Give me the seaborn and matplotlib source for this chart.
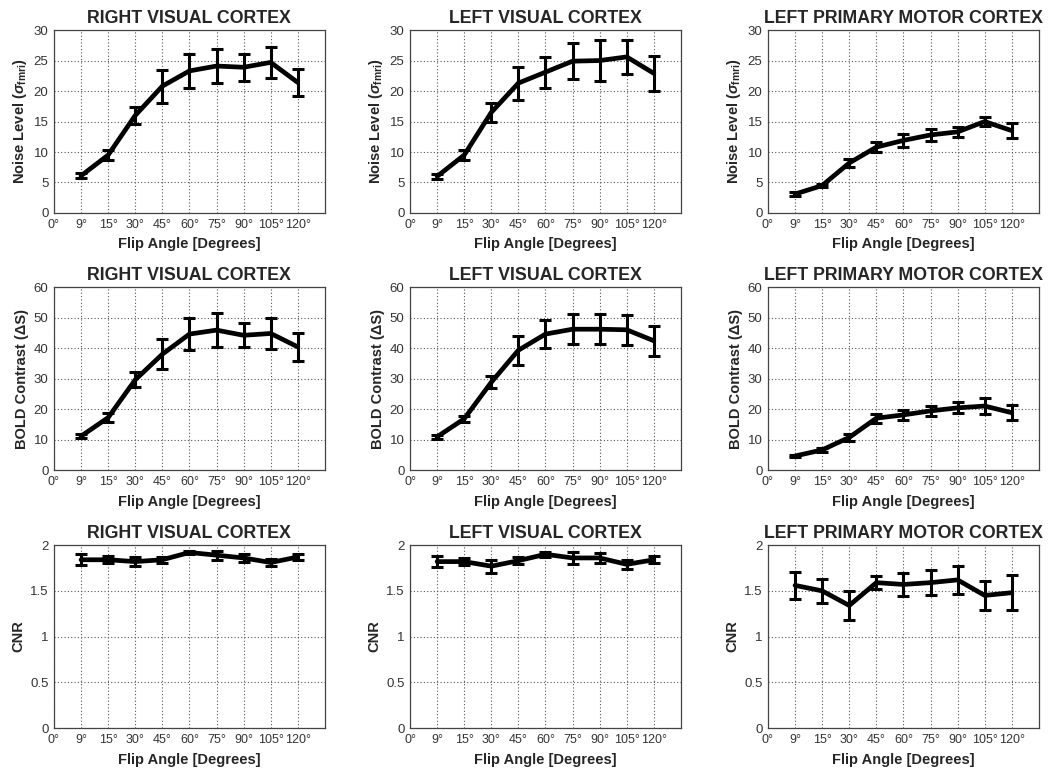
import numpy as np
import pandas as pd
import matplotlib
matplotlib.use("Agg")
import matplotlib.pyplot as plt
import seaborn as sns

tick_labels = ["0°", "9°", "15°", "30°", "45°", "60°", "75°", "90°", "105°", "120°"]
flip_angles = ["9°", "15°", "30°", "45°", "60°", "75°", "90°", "105°", "120°"]
regions = ["RIGHT VISUAL CORTEX", "LEFT VISUAL CORTEX", "LEFT PRIMARY MOTOR CORTEX"]

noise_rvc = [6.1, 9.5, 16.0, 20.8, 23.3, 24.1, 23.9, 24.7, 21.4]
noise_rvc_err = [0.4, 0.8, 1.4, 2.7, 2.8, 2.85, 2.25, 2.55, 2.15]
noise_lvc = [6.0, 9.5, 16.5, 21.3, 23.1, 24.9, 25.0, 25.6, 22.9]
noise_lvc_err = [0.4, 0.8, 1.6, 2.7, 2.55, 2.9, 3.4, 2.85, 2.85]
noise_lpmc = [3.1, 4.5, 8.2, 10.8, 11.9, 12.8, 13.3, 15.0, 13.5]
noise_lpmc_err = [0.3, 0.3, 0.6, 0.8, 1.0, 1.0, 0.8, 0.7, 1.2]

bold_rvc = [11.1, 17.2, 29.6, 38.0, 44.6, 45.9, 44.2, 44.8, 40.4]
bold_rvc_err = [0.6, 1.5, 2.4, 5.0, 5.2, 5.5, 4.0, 5.0, 4.5]
bold_lvc = [10.9, 16.8, 28.8, 39.3, 44.6, 46.2, 46.2, 46.0, 42.4]
bold_lvc_err = [0.6, 1.0, 2.0, 4.8, 4.5, 5.0, 5.0, 5.0, 5.0]
bold_lpmc = [4.6, 6.6, 10.7, 17.0, 18.1, 19.4, 20.4, 21.0, 18.8]
bold_lpmc_err = [0.4, 0.6, 1.2, 1.5, 1.7, 1.7, 1.8, 2.5, 2.5]

cnr_rvc = [1.84, 1.84, 1.82, 1.84, 1.92, 1.89, 1.86, 1.81, 1.87]
cnr_rvc_err = [0.06, 0.04, 0.05, 0.03, 0.02, 0.05, 0.04, 0.04, 0.03]
cnr_lvc = [1.82, 1.82, 1.77, 1.83, 1.90, 1.86, 1.86, 1.79, 1.84]
cnr_lvc_err = [0.06, 0.04, 0.07, 0.04, 0.03, 0.07, 0.05, 0.05, 0.04]
cnr_lpmc = [1.56, 1.50, 1.34, 1.59, 1.57, 1.59, 1.62, 1.45, 1.48]
cnr_lpmc_err = [0.15, 0.13, 0.16, 0.07, 0.13, 0.14, 0.15, 0.16, 0.19]

ylabels = [r"Noise Level ($\sigma_{\mathbf{fmri}}$)", "BOLD Contrast (ΔS)", "CNR"]
ylims = [(0, 30), (0, 60), (0, 2)]
yticks = [np.arange(0, 31, 5), np.arange(0, 61, 10), [0, 0.5, 1, 1.5, 2]]
yticklabels = [[str(v) for v in range(0, 31, 5)], [str(v) for v in range(0, 61, 10)],
               ["0", "0.5", "1", "1.5", "2"]]

data = [
    [(noise_rvc, noise_rvc_err), (noise_lvc, noise_lvc_err), (noise_lpmc, noise_lpmc_err)],
    [(bold_rvc, bold_rvc_err), (bold_lvc, bold_lvc_err), (bold_lpmc, bold_lpmc_err)],
    [(cnr_rvc, cnr_rvc_err), (cnr_lvc, cnr_lvc_err), (cnr_lpmc, cnr_lpmc_err)],
]

sns.set_theme(style="white")
plt.rcParams["font.family"] = ["Liberation Sans", "DejaVu Sans"]
plt.rcParams["mathtext.fontset"] = "custom"
plt.rcParams["mathtext.rm"] = "Liberation Sans"
plt.rcParams["mathtext.it"] = "Liberation Sans:italic:bold"
plt.rcParams["mathtext.bf"] = "Liberation Sans:bold"

fig = plt.figure(figsize=(10.5, 7.75), dpi=100)
fig.patch.set_facecolor("white")

lefts = [0.0514, 0.3905, 0.7314]
bottoms = [0.7252, 0.3935, 0.0606]
w, h = 0.258, 0.236

positions = list(range(1, 10))
for r in range(3):
    for c in range(3):
        ax = fig.add_axes([lefts[c], bottoms[r], w, h])
        vals, errs = data[r][c]
        df = pd.DataFrame({"pos": positions, "val": vals})
        sns.lineplot(data=df, x="pos", y="val", ax=ax, color="black", linewidth=3.4, zorder=3)
        ax.errorbar(positions, vals, yerr=errs, fmt="none", ecolor="black",
                    elinewidth=2.2, capsize=4, capthick=2.2, zorder=4)
        ax.set_xlim(0, 10)
        ax.set_ylim(*ylims[r])
        ax.set_xticks(range(0, 10))
        ax.set_xticklabels(tick_labels, fontsize=9)
        ax.set_yticks(yticks[r])
        ax.set_yticklabels(yticklabels[r], fontsize=9.5)
        ax.grid(True, linestyle=(0, (1, 2)), color="#555555", linewidth=0.8)
        ax.set_axisbelow(True)
        for s in ax.spines.values():
            s.set_color("#444444")
            s.set_linewidth(0.9)
        ax.tick_params(axis="x", length=0, pad=4, colors="#333333")
        ax.tick_params(axis="y", length=0, pad=4, colors="#333333")
        ax.set_title(regions[c], fontsize=12.8, fontweight="bold", pad=5)
        ax.set_xlabel("Flip Angle [Degrees]", fontsize=10.5, fontweight="bold", labelpad=5)
        ax.set_ylabel(ylabels[r], fontsize=10.5, fontweight="bold", labelpad=3)

fig.savefig("out.png", dpi=100, facecolor="white")
